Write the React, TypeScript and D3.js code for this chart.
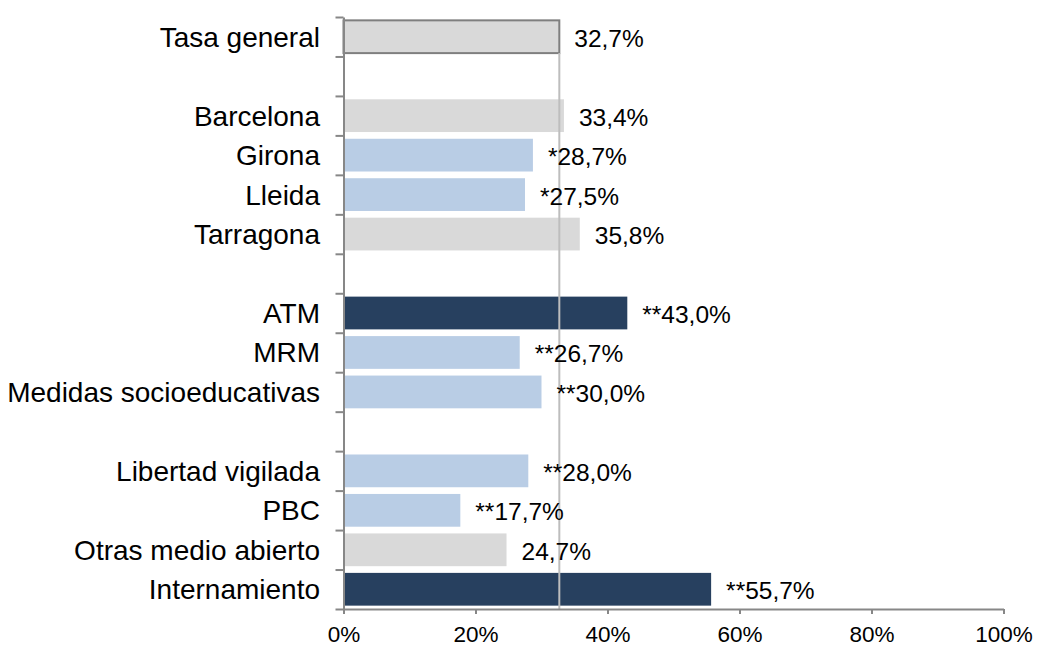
import { useEffect, useRef } from 'react';
import * as d3 from 'd3';

// Rows from top to bottom; empty strings are spacer rows between groups
const categories = [
  'Tasa general',
  '',
  'Barcelona',
  'Girona',
  'Lleida',
  'Tarragona',
  '',
  'ATM',
  'MRM',
  'Medidas socioeducativas',
  '',
  'Libertad vigilada',
  'PBC',
  'Otras medio abierto',
  'Internamiento',
];
const values: (number | null)[] = [32.7, null, 33.4, 28.7, 27.5, 35.8, null, 43.0, 26.7, 30.0, null, 28.0, 17.7, 24.7, 55.7];
const significance = ['', '', '', '*', '*', '', '', '**', '**', '**', '', '**', '**', '', '**'];
// compared with the general rate
const comparison = ['general', '', 'same', 'lower', 'lower', 'same', '', 'higher', 'lower', 'lower', '', 'lower', 'lower', 'same', 'higher'];
const xTicks = [0, 20, 40, 60, 80, 100];

const colors: Record<string, string> = {
  general: '#d9d9d9',
  same: '#d9d9d9',
  lower: '#b9cde5',
  higher: '#27405f',
};

const fmt = d3.formatLocale({ decimal: ',', thousands: '.', grouping: [3], currency: ['', '€'] }).format('.1f');

export default function App() {
  const svgRef = useRef<SVGSVGElement>(null);

  useEffect(() => {
    if (!svgRef.current) return;
    const width = 1038;
    const height = 646;
    const left = 343.5;
    const right = 1003.5;
    const top = 17;
    const bottom = 609;
    const font = "'Liberation Sans', Arial, sans-serif";
    const axisColor = '#878787';

    const svg = d3.select(svgRef.current).attr('width', width).attr('height', height);
    svg.selectAll('*').remove();

    const x = d3.scaleLinear().domain([0, 100]).range([left, right]);
    const y = d3
      .scaleBand<number>()
      .domain(d3.range(categories.length))
      .range([top, bottom])
      .paddingInner(0.17)
      .paddingOuter(0.085);
    const yEdge = d3.scaleLinear().domain([0, categories.length]).range([top, bottom]);

    const rows = categories.map((c, i) => ({ c, i, v: values[i], sig: significance[i], cmp: comparison[i] }));
    const bars = rows.filter((d) => d.v !== null);

    // Bars
    svg
      .selectAll('.bar')
      .data(bars)
      .enter()
      .append('rect')
      .attr('class', 'bar')
      .attr('x', x(0))
      .attr('y', (d) => y(d.i) || 0)
      .attr('width', (d) => x(d.v as number) - x(0))
      .attr('height', y.bandwidth())
      .attr('fill', (d) => colors[d.cmp])
      .attr('stroke', (d) => (d.cmp === 'general' ? '#7f7f7f' : 'none'))
      .attr('stroke-width', 2);

    // Reference line at the general rate
    const ref = values[0] as number;
    svg
      .append('line')
      .attr('x1', x(ref))
      .attr('x2', x(ref))
      .attr('y1', (y(0) || 0) + y.bandwidth())
      .attr('y2', bottom)
      .attr('stroke', '#bdbdbd')
      .attr('stroke-width', 2);

    // Left axis with ticks at band edges
    const yAxis = svg
      .append('g')
      .attr('transform', `translate(${left}, 0)`)
      .call(
        d3
          .axisLeft(yEdge)
          .tickValues(d3.range(categories.length + 1))
          .tickFormat(() => '')
          .tickSize(8)
          .tickSizeOuter(0)
      );
    yAxis.selectAll('path, line').attr('stroke', axisColor).attr('stroke-width', 2);

    // Bottom axis
    const xAxis = svg
      .append('g')
      .attr('transform', `translate(0, ${bottom})`)
      .call(
        d3
          .axisBottom(x)
          .tickValues(xTicks)
          .tickFormat((d) => `${d}%`)
          .tickSize(5)
          .tickSizeOuter(0)
      );
    xAxis.selectAll('path, line').attr('stroke', axisColor).attr('stroke-width', 2);
    xAxis
      .selectAll('text')
      .attr('y', 32.5)
      .attr('dy', 0)
      .style('font-family', font)
      .style('font-size', '22.5px')
      .style('fill', '#000');

    // Category labels
    svg
      .selectAll('.cat')
      .data(rows.filter((d) => d.c !== ''))
      .enter()
      .append('text')
      .attr('class', 'cat')
      .attr('x', 320)
      .attr('y', (d) => (y(d.i) || 0) + y.bandwidth() / 2 + 10)
      .attr('text-anchor', 'end')
      .style('font-family', font)
      .style('font-size', '28px')
      .style('fill', '#000')
      .text((d) => d.c);

    // Value labels
    svg
      .selectAll('.val')
      .data(bars)
      .enter()
      .append('text')
      .attr('class', 'val')
      .attr('x', (d) => x(d.v as number) + 15)
      .attr('y', (d) => (y(d.i) || 0) + y.bandwidth() / 2 + 10)
      .attr('text-anchor', 'start')
      .style('font-family', font)
      .style('font-size', '24.5px')
      .style('fill', '#000')
      .text((d) => `${d.sig}${fmt(d.v as number)}%`);
  }, []);

  return (
    <div style={{ position: 'absolute', left: 0, top: 0, background: '#fff' }}>
      <svg ref={svgRef} style={{ display: 'block' }} />
    </div>
  );
}
